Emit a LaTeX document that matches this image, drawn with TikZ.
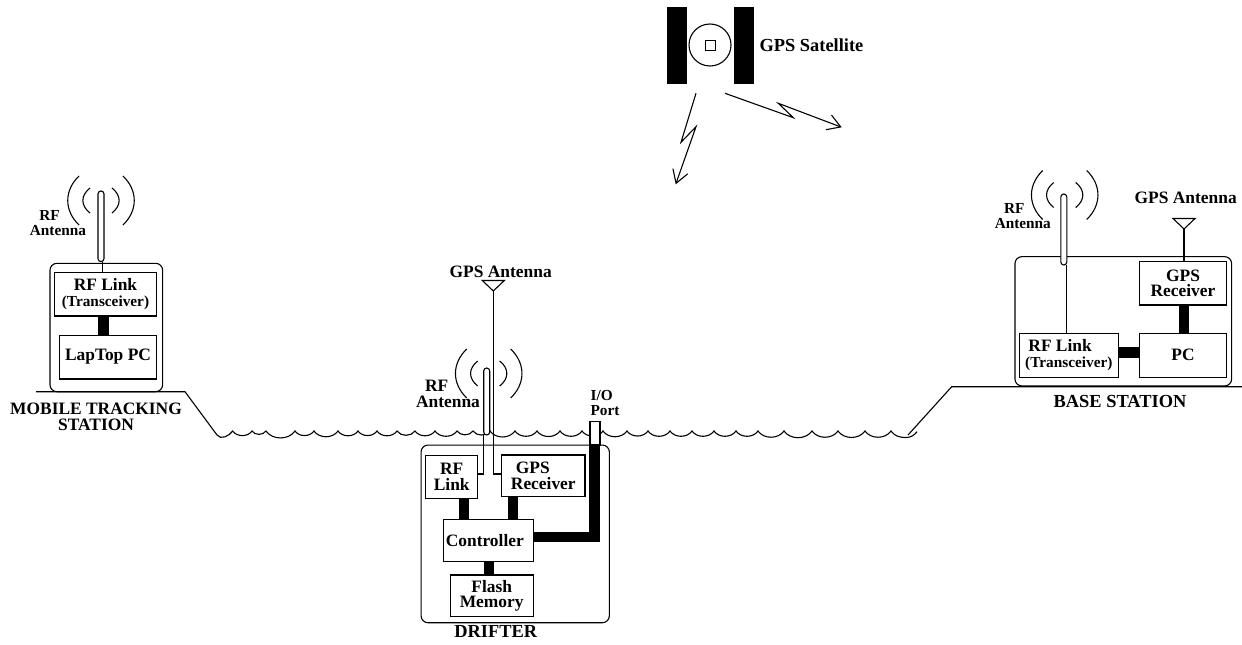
\documentclass[tikz,border=0pt]{standalone}
\usepackage{fontspec}
\setmainfont{Liberation Serif}
\usetikzlibrary{positioning,arrows.meta,calc}
\newcommand{\bigtxt}{\fontsize{17.4}{15.6}\selectfont\bfseries}
\newcommand{\smalltxt}{\fontsize{15.3}{15}\selectfont\bfseries}
\newcommand{\hugetxt}{\fontsize{18.4}{16}\selectfont\bfseries}
\tikzset{
  unitbox/.style={draw,inner sep=0pt,outer sep=0pt,align=center,font=\bigtxt},
  housing/.style={draw,rounded corners=7pt,inner sep=0pt,outer sep=0pt},
  stem/.style={draw,fill=white,rounded corners=3pt,minimum width=6pt,inner sep=0pt,outer sep=0pt},
  bus/.style={line width=10.5pt},
  biglabel/.style={inner sep=0pt,align=center,font=\bigtxt},
  smalllabel/.style={inner sep=0pt,align=center,font=\smalltxt},
  hugelabel/.style={inner sep=0pt,align=center,font=\hugetxt},
  rfwaves/.pic={
    \draw (-22,-24.5) .. controls (-37,-10) and (-37,10) .. (-22,24.5);
    \draw (22,-24.5) .. controls (37,-10) and (37,10) .. (22,24.5);
    \draw (-11,-12.5) .. controls (-20.5,-5) and (-20.5,5) .. (-11,12.5);
    \draw (11,-12.5) .. controls (20.5,-5) and (20.5,5) .. (11,12.5);
  },
  dish/.pic={\draw (-11,-10.5) -- (11,-10.5) -- (0,0) -- cycle;}
}

\begin{document}
\begin{tikzpicture}[x=1pt,y=-1pt,line width=1.1pt,>={Straight Barb[length=4.5mm,width=5.5mm]}]
\useasboundingbox (0,0) rectangle (1242,645);

% satellite
\fill (666.7,6.7) rectangle (686.7,84.3);
\fill (734,6.7) rectangle (754.3,84.3);
\node[draw,circle,minimum size=42pt,inner sep=0pt] (sat) at (710,45) {};
\node[draw,minimum size=10pt,inner sep=0pt] (satcore) at (710.8,45.5) {};
\node[hugelabel,anchor=west] (satlabel) at (759,45) {GPS Satellite};
\coordinate (boltA) at (696,93.3);
\coordinate (boltB) at (725,93.3);
\draw[->] (boltA) -- (681,142.3) -- (696,126.7) -- (675.7,184.3);
\draw[->] (boltB) -- (793.3,117.7) -- (778.3,103.3) -- (841.7,127.3);

% ground and water
\draw (36,391.7) -- (185,391.7) -- (217,435)
  \foreach \cx in {232.7,252,266,295,314,338,358,377,397,415,435,457,473,490,515,537,560,582,603,627,648,670,692,714,736,758,784,812,838,865,891} {
    to[out=-55,in=-125] (\cx,431)}
  to[out=-55,in=180] (906,437.5) to[out=0,in=-130] (917,431.7);
\draw (908,435) -- (951.7,386.7) -- (1242,386.7);

% mobile tracking station
\node[housing,minimum width=112.7,minimum height=128.4] (caseL) at (106.3,327.5) {};
\node[unitbox,minimum width=102.4,minimum height=43.3] (rfL) at (105.5,294.3) {RF Link\\{\smalltxt (Transceiver)}};
\node[unitbox,minimum width=97.4,minimum height=43.3] (pcL) at (108,357.3) {\raisebox{5pt}{LapTop PC}};
\node[stem,minimum height=70.7] (stemL) at (101,226.3) {};
\pic at (101,200.5) {rfwaves};
\draw (stemL.south -| 102.3,0) -- (rfL.north -| 102.3,0);
\draw[bus] (rfL.south -| 103.7,0) -- (pcL.north -| 103.7,0);
\node[smalllabel] (rfantL) at (58,223) {RF\hspace*{1.1em}\\Antenna};
\node[biglabel] (labelL) at (96,416.7) {MOBILE TRACKING\\[1pt]STATION};

% drifter
\node[housing,minimum width=188.3,minimum height=177.7] (caseD) at (515.2,533.9) {};
\node[draw,fill=white,minimum width=10pt,minimum height=23.3pt,inner sep=0pt,outer sep=0pt] (port) at (595,433.3) {};
\node[unitbox,minimum width=52,minimum height=43.3] (rfD) at (451.7,476.7) {RF\\Link};
\node[unitbox,minimum width=83.3,minimum height=41.7] (gpsD) at (543.3,475.8) {GPS\hspace*{1.2em}\\Receiver};
\node[unitbox,minimum width=90,minimum height=42.4] (ctrl) at (488.3,540.5) {Controller\hspace*{0.4em}};
\node[unitbox,minimum width=83.3,minimum height=41.7] (flash) at (491.7,595.8) {Flash\\Memory};
\node[stem,minimum height=67] (stemD) at (486.7,401.5) {};
\pic at (488.7,373.5) {rfwaves};
\pic at (493.3,291) {dish};
\coordinate (tipD) at (493.3,291);
\draw (tipD) |- (gpsD.west |- 0,474);
\draw (stemD.south west) |- (rfD.east |- 0,474);
\draw[bus] (rfD.south -| 464.2,0) -- (ctrl.north -| 464.2,0);
\draw[bus] (gpsD.south -| 513.2,0) -- (ctrl.north -| 513.2,0);
\draw[bus] (ctrl.south -| 489.2,0) -- (flash.north -| 489.2,0);
\draw[bus] (ctrl.east |- 0,537) -| (port.south -| 594.7,0);
\node[biglabel] (gpsantD) at (500.7,272) {GPS Antenna};
\node[biglabel] (rfantD) at (448,394) {RF\hspace*{1.3em}\\Antenna};
\node[smalllabel,anchor=west,align=left] (portlabel) at (590,403) {I/O\\Port};
\node[hugelabel] (labelD) at (495.7,631.7) {DRIFTER};

% base station
\node[housing,minimum width=216.7,minimum height=129.3] (caseB) at (1123.3,321.3) {};
\node[unitbox,minimum width=87.4,minimum height=43.3] (gpsB) at (1183,283.3) {GPS\\Receiver};
\node[unitbox,minimum width=87.4,minimum height=44] (pcB) at (1183,355.3) {PC};
\node[unitbox,minimum width=99,minimum height=44] (rfB) at (1068.8,355.3) {RF Link\hspace*{1em}\\{\smalltxt (Transceiver)}};
\node[stem,minimum height=71] (stemB) at (1063.8,229.5) {};
\pic at (1064.7,195) {rfwaves};
\pic at (1184,229) {dish};
\coordinate (tipB) at (1184,229);
\draw (tipB) -- (gpsB.north -| tipB);
\draw (stemB.south east) -- (rfB.north -| stemB.south east);
\draw[bus] (gpsB.south -| 1183.8,0) -- (pcB.north -| 1183.8,0);
\draw[bus] (rfB.east |- 0,352.5) -- (pcB.west |- 0,352.5);
\node[biglabel] (gpsantB) at (1185.7,198) {GPS Antenna};
\node[smalllabel] (rfantB) at (1022.8,216) {RF\hspace*{1.1em}\\Antenna};
\node[hugelabel] (labelB) at (1120,401.7) {BASE STATION};
\end{tikzpicture}
\end{document}
